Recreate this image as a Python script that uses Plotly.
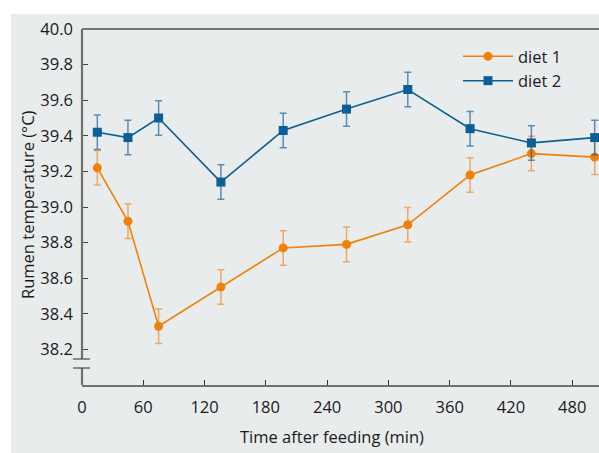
import plotly.graph_objects as go

# ---- data ----
time_min = [15, 45, 75, 136, 197, 259, 319, 380, 440, 502]
diet1 = [39.22, 38.92, 38.33, 38.55, 38.77, 38.79, 38.90, 39.18, 39.30, 39.28]
diet1_err = [0.097] * 10
diet2 = [39.42, 39.39, 39.50, 39.14, 39.43, 39.55, 39.66, 39.44, 39.36, 39.39]
diet2_err = [0.097] * 10

y_ticks = [38.2, 38.4, 38.6, 38.8, 39.0, 39.2, 39.4, 39.6, 39.8, 40.0]
y_tick_text = ["38.2", "38.4", "38.6", "38.8", "39.0", "39.2", "39.4", "39.6", "39.8", "40.0"]
x_ticks = [0, 60, 120, 180, 240, 300, 360, 420, 480]

ORANGE = "#f08008"
BLUE = "#0a5f96"
BG = "#e9eced"
AXIS = "#707070"
FONT = "Open Sans"
FS = 16.5

W, H = 599, 453
L, R, T, B = 82, 0, 29, 68
PW, PH = W - L - R, H - T - B

def px_x(px):  # paper fraction from pixel x
    return (px - L) / PW

def px_y(py):  # paper fraction from pixel y
    return (H - B - py) / PH

fig = go.Figure()
fig.add_trace(go.Scatter(
    x=time_min, y=diet1, name="diet 1", mode="lines+markers",
    line=dict(color=ORANGE, width=1.6),
    marker=dict(symbol="circle", size=9, color=ORANGE),
    error_y=dict(type="data", array=diet1_err, visible=True,
                 color="rgba(240,140,40,0.7)", thickness=1.5, width=3.5),
))
fig.add_trace(go.Scatter(
    x=time_min, y=diet2, name="diet 2", mode="lines+markers",
    line=dict(color=BLUE, width=1.6),
    marker=dict(symbol="square", size=9, color=BLUE),
    error_y=dict(type="data", array=diet2_err, visible=True,
                 color="rgba(30,100,155,0.7)", thickness=1.5, width=3.5),
))

y_break_hi = 38.0 + (H - B - 359) / PH * 2.0
y_break_lo = 38.0 + (H - B - 368) / PH * 2.0

shapes = [
    # grey panel
    dict(type="rect", xref="paper", yref="paper", x0=px_x(11), x1=px_x(W + 5),
         y0=px_y(H + 5), y1=px_y(14), fillcolor=BG, line=dict(width=0), layer="below"),
    # top black line
    dict(type="line", xref="paper", yref="paper", x0=0, x1=1, y0=1, y1=1,
         line=dict(color="black", width=1.2)),
    # left axis with break
    dict(type="line", xref="paper", yref="y", x0=0, x1=0, y0=40.0, y1=y_break_hi,
         line=dict(color=AXIS, width=2.2)),
    dict(type="line", xref="paper", yref="y", x0=0, x1=0, y0=y_break_lo, y1=38.0,
         line=dict(color=AXIS, width=2.2)),
    dict(type="line", xref="paper", yref="y", x0=px_x(73), x1=px_x(90), y0=y_break_hi, y1=y_break_hi,
         line=dict(color="#555", width=1.3)),
    dict(type="line", xref="paper", yref="y", x0=px_x(73), x1=px_x(90), y0=y_break_lo, y1=y_break_lo,
         line=dict(color="#555", width=1.3)),
]

annotations = [
    dict(text="Time after feeding (min)", xref="paper", yref="paper",
         x=px_x(331.5), y=px_y(436.5), showarrow=False, xanchor="center", yanchor="middle",
         font=dict(family=FONT, size=FS, color="#1a1a1a")),
    dict(text="Rumen temperature (°C)", xref="paper", yref="paper",
         x=px_x(27), y=px_y(205), showarrow=False, xanchor="center", yanchor="middle",
         textangle=-90, font=dict(family=FONT, size=FS, color="#1a1a1a")),
]

fig.update_layout(
    width=W, height=H, autosize=False,
    margin=dict(l=L, r=R, t=T, b=B, pad=0),
    paper_bgcolor="white", plot_bgcolor=BG,
    font=dict(family=FONT, size=FS, color="#1a1a1a"),
    showlegend=True,
    legend=dict(x=px_x(458), y=px_y(39), xanchor="left", yanchor="top",
                bgcolor="rgba(0,0,0,0)", borderwidth=0,
                font=dict(family=FONT, size=FS, color="#1a1a1a"),
                tracegroupgap=0, itemwidth=50),
    shapes=shapes, annotations=annotations,
    xaxis=dict(range=[0, PW / 1.0213], tickvals=x_ticks, ticks="inside", ticklen=5,
               tickwidth=1.3, tickcolor="#333", showgrid=False, zeroline=False,
               showline=True, linecolor=AXIS, linewidth=1.6,
               tickfont=dict(family=FONT, size=FS, color="#1a1a1a"),
               ticklabelstandoff=6),
    yaxis=dict(range=[38.0, 40.0], tickvals=y_ticks, ticktext=y_tick_text,
               ticks="inside", ticklen=6, tickwidth=1.3, tickcolor="#444",
               showgrid=False, zeroline=False, showline=False,
               tickfont=dict(family=FONT, size=FS, color="#1a1a1a"),
               ticklabelstandoff=8),
)

fig.write_html("out.html")
